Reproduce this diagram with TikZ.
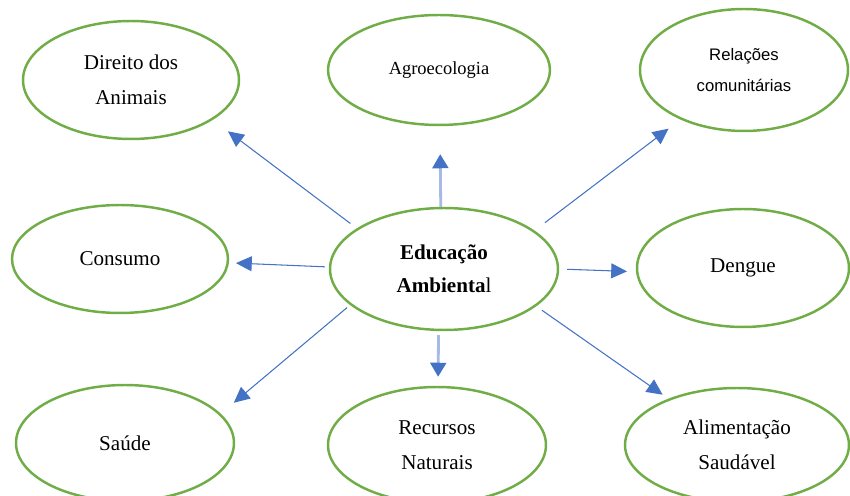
\documentclass[tikz,border=0pt]{standalone}
\usepackage{fontspec}
\setmainfont{Liberation Serif}
\newfontfamily\arialfont{Liberation Sans}
\usepackage{tikz}
\usetikzlibrary{
  arrows.meta,
  shapes.geometric
}
\definecolor{leafgreen}{RGB}{112,173,71}
\definecolor{arrowblue}{RGB}{68,114,196}
\definecolor{paleblue}{RGB}{165,186,228}

\begin{document}
\begin{tikzpicture}[
  x=0.02cm, y=-0.02cm,
  bubble/.style={ellipse, draw=leafgreen, line width=1.4pt, inner sep=0pt, align=center,
    font=\fontsize{12}{20}\selectfont},
  arr/.style={draw=arrowblue, line width=0.6pt, -{Triangle[length=9pt, width=8.5pt]}},
  softarr/.style={draw=paleblue, line width=1.6pt,
    -{Triangle[length=8pt, width=9pt, color=arrowblue]}}
]
\useasboundingbox (0,0) rectangle (850,496);
\node[bubble, minimum width=4.56cm, minimum height=2.44cm, font=\fontsize{12}{19}\selectfont] (ea) at (444,269) {\textbf{Educação}\\\textbf{Ambienta}l};
\node[bubble, minimum width=4.32cm, minimum height=2.36cm] (dir) at (131,80) {Direito dos\\Animais};
\node[bubble, minimum width=4.44cm, minimum height=2.2cm, font=\fontsize{10.5}{12}\selectfont] (agro) at (439,70) {Agroecologia};
\node[bubble, minimum width=4.16cm, minimum height=2.44cm, font=\arialfont\fontsize{9.5}{18}\selectfont] (rel) at (744,70) {Relações\\comunitárias};
\node[bubble, minimum width=4.32cm, minimum height=2.16cm] (cons) at (120,259) {Consumo};
\node[bubble, minimum width=4.24cm, minimum height=2.36cm] (deng) at (743,268) {Dengue};
\node[bubble, minimum width=4.36cm, minimum height=2.32cm] (sau) at (125,443) {Saúde};
\node[bubble, minimum width=4.36cm, minimum height=2.32cm] (rec) at (437,445) {Recursos\\Naturais};
\node[bubble, minimum width=4.48cm, minimum height=2.28cm] (alim) at (737,445) {Alimentação\\Saudável};

% ligações a partir do centro
\draw[arr, shorten <=0.16cm, shorten >=0.38cm] (ea.155) -- (dir.-26);
\draw[softarr, shorten >=0.56cm] (ea.93) -- (agro.-89);
\draw[arr, shorten <=0.26cm, shorten >=0.30cm] (ea.23) -- (rel.218);
\draw[arr, shorten <=0.08cm, shorten >=0.14cm] (ea.179.5) -- (cons.-2);
\draw[arr, shorten <=0.16cm, shorten >=0.18cm] (ea.0) -- (deng.182);
\draw[arr, shorten <=0.08cm, shorten >=0.34cm] (ea.201) -- (sau.17);
\draw[softarr, shorten <=0.08cm, shorten >=0.18cm] (ea.265) -- (rec.89);
\draw[arr, shorten <=0.14cm, shorten >=0.14cm] (ea.-22.4) -- (alim.146.8);
\end{tikzpicture}
\end{document}
